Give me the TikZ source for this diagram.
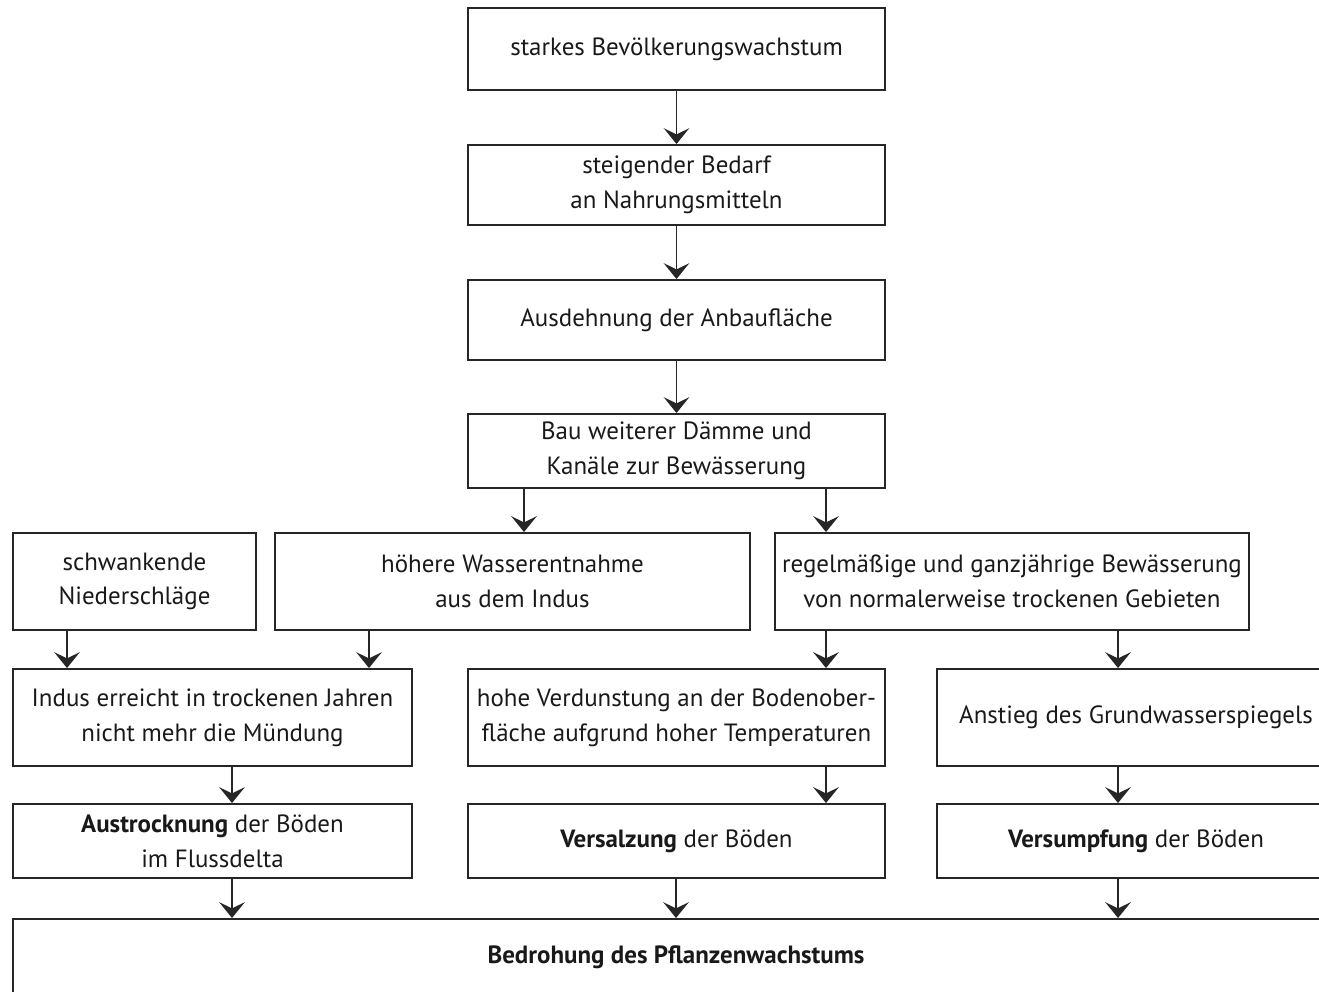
\documentclass[tikz,border=0pt]{standalone}
\usepackage{fontspec}
\setmainfont{PT Sans}
\usetikzlibrary{arrows.meta}
\begin{document}
\begin{tikzpicture}[
       x=0.02cm,
       y=-0.02cm,
       line width=1.1pt,
       kasten/.style={
         draw=black!85,
         text=black!90,
         align=center,
         inner sep=0pt,
         font=\fontsize{14.2}{19.8}\selectfont
       },
       pfeil/.style={
         draw=black!85,
         -{Stealth[length=9pt,width=14.5pt,inset=3.5pt]}
       }
     ]
       \useasboundingbox (0,0) rectangle (1319,991);
       \clip (0,0) rectangle (1319,991);

       \node (b1) at (676.5,49) [kasten, minimum width=8.34cm, minimum height=1.64cm]{starkes Bevölkerungswachstum};
       \node (b2) at (676.5,185) [kasten, minimum width=8.34cm, minimum height=1.6cm]{steigender Bedarf\\an Nahrungsmitteln};
       \node (b3) at (676.5,320) [kasten, minimum width=8.34cm, minimum height=1.6cm]{Ausdehnung der Anbaufläche};
       \node (b4) at (676.5,451) [kasten, minimum width=8.34cm, minimum height=1.48cm]{Bau weiterer Dämme und\\Kanäle zur Bewässerung};

       \node (b5) at (134.5,581.5) [kasten, minimum width=4.86cm, minimum height=1.94cm]{schwankende\\Niederschläge};
       \node (b6) at (512.5,581.5) [kasten, minimum width=9.5cm, minimum height=1.94cm]{höhere Wasserentnahme\\aus dem Indus};
       \node (b7) at (1012,581.5) [kasten, minimum width=9.48cm, minimum height=1.94cm]{regelmäßige und ganzjährige Bewässerung\\von normalerweise trockenen Gebieten};

       \node (b8) at (212.5,717.5) [kasten, minimum width=7.98cm, minimum height=1.94cm]{Indus erreicht in trockenen Jahren\\nicht mehr die Mündung};
       \node (b9) at (676.5,717.5) [kasten, minimum width=8.34cm, minimum height=1.94cm]{hohe Verdunstung an der Bodenober-\\fläche aufgrund hoher Temperaturen};
       \node (b10) at (1136,717.5) [kasten, minimum width=7.96cm, minimum height=1.94cm]{Anstieg des Grundwasserspiegels};

       \node (b11) at (212.5,841) [kasten, minimum width=7.98cm, minimum height=1.48cm]{\textbf{Austrocknung} der Böden\\im Flussdelta};
       \node (b12) at (676.5,841) [kasten, minimum width=8.34cm, minimum height=1.48cm]{\textbf{Versalzung} der Böden};
       \node (b13) at (1136,841) [kasten, minimum width=7.96cm, minimum height=1.48cm]{\textbf{Versumpfung} der Böden};

       \node (b14) at (676,957) [kasten, minimum width=26.52cm, minimum height=1.52cm]{\textbf{Bedrohung des Pflanzenwachstums}};

       \draw[pfeil] (b1) -- (b2);
       \draw[pfeil] (b2) -- (b3);
       \draw[pfeil] (b3) -- (b4);

       \draw[pfeil] (b4.south -| 524,0) -- (b6.north -| 524,0);
       \draw[pfeil] (b4.south -| 826,0) -- (b7.north -| 826,0);

       \draw[pfeil] (b5.south -| 67,0) -- (b8.north -| 67,0);
       \draw[pfeil] (b6.south -| 369,0) -- (b8.north -| 369,0);
       \draw[pfeil] (b7.south -| 826,0) -- (b9.north -| 826,0);
       \draw[pfeil] (b7.south -| 1118,0) -- (b10.north -| 1118,0);

       \draw[pfeil] (b8.south -| 232,0) -- (b11.north -| 232,0);
       \draw[pfeil] (b9.south -| 826,0) -- (b12.north -| 826,0);
       \draw[pfeil] (b10.south -| 1118,0) -- (b13.north -| 1118,0);

       \draw[pfeil] (b11.south -| 232,0) -- (b14.north -| 232,0);
       \draw[pfeil] (b12.south -| 676,0) -- (b14.north -| 676,0);
       \draw[pfeil] (b13.south -| 1118,0) -- (b14.north -| 1118,0);

\end{tikzpicture}
\end{document}
